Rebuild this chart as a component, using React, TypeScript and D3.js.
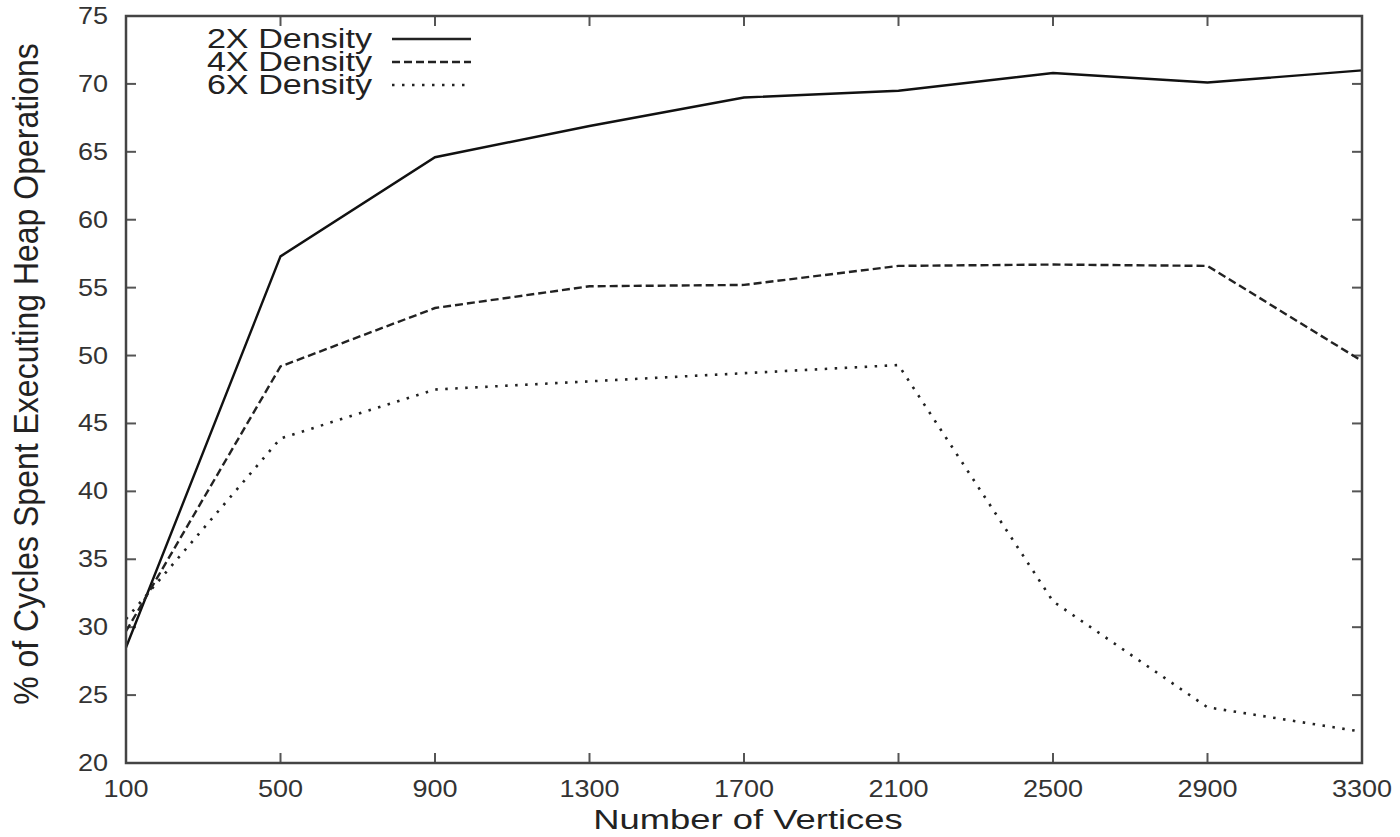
import React from 'react';
import * as d3 from 'd3';

// vertex counts on the x axis
const vertices = [100, 500, 900, 1300, 1700, 2100, 2500, 2900, 3300];

// % of cycles spent in heap operations
const density2x = [28.5, 57.3, 64.6, 66.9, 69.0, 69.5, 70.8, 70.1, 71.0];
const density4x = [29.7, 49.2, 53.5, 55.1, 55.2, 56.6, 56.7, 56.6, 49.6];
const density6x = [30.6, 43.9, 47.5, 48.1, 48.7, 49.3, 31.9, 24.1, 22.3];

const seriesNames = ['2X Density', '4X Density', '6X Density'];
const yTicks = [20, 25, 30, 35, 40, 45, 50, 55, 60, 65, 70, 75];

const W = 1400;
const H = 837;
const margin = { top: 16, right: 38, bottom: 74, left: 126 };
const font = '"Liberation Sans", Arial, Helvetica, sans-serif';
const dashes = [null, '8,4', '2.5,7.5'];

const App = () => {
  const x = d3
    .scaleLinear()
    .domain([100, 3300])
    .range([margin.left, W - margin.right]);

  const y = d3
    .scaleLinear()
    .domain([20, 75])
    .range([H - margin.bottom, margin.top]);

  const line = d3
    .line<number>()
    .x((d, i) => x(vertices[i]))
    .y((d) => y(d));

  const series = [density2x, density4x, density6x];
  const x0 = x.range()[0];
  const x1 = x.range()[1];
  const y0 = y.range()[0];
  const y1 = y.range()[1];
  const tick = 10;

  return (
    <svg
      width={W}
      height={H}
      style={{ position: 'absolute', left: 0, top: 0, background: '#fff' }}
      fontFamily={font}
    >
      {/* tick marks, mirrored on all four sides */}
      <g stroke="#555" strokeWidth={2}>
        {vertices.map((v) => (
          <g key={'xt' + v}>
            <line x1={x(v)} x2={x(v)} y1={y0} y2={y0 - tick} />
            <line x1={x(v)} x2={x(v)} y1={y1} y2={y1 + tick} />
          </g>
        ))}
        {yTicks.map((t) => (
          <g key={'yt' + t}>
            <line x1={x0} x2={x0 + tick} y1={y(t)} y2={y(t)} />
            <line x1={x1} x2={x1 - tick} y1={y(t)} y2={y(t)} />
          </g>
        ))}
      </g>

      {/* data lines */}
      <g fill="none">
        {series.map((s, i) => (
          <path
            key={i}
            d={line(s) || ''}
            stroke={i === 0 ? '#111' : '#222'}
            strokeWidth={i === 2 ? 2.6 : 2.4}
            strokeDasharray={dashes[i] || undefined}
          />
        ))}
      </g>

      {/* frame */}
      <rect
        x={x0}
        y={y1}
        width={x1 - x0}
        height={y0 - y1}
        fill="none"
        stroke="#444"
        strokeWidth={2.5}
      />

      {/* tick labels */}
      <g fill="#333" fontSize={23.5}>
        {vertices.map((v) => (
          <text
            key={'xl' + v}
            transform={`translate(${x(v)},${y0 + 34}) scale(1.15,1)`}
            textAnchor="middle"
          >
            {v}
          </text>
        ))}
        {yTicks.map((t) => (
          <text
            key={'yl' + t}
            transform={`translate(${x0 - 18},${y(t) + 8}) scale(1.15,1)`}
            textAnchor="end"
          >
            {t}
          </text>
        ))}
      </g>

      {/* axis titles */}
      <text
        transform={`translate(${(x0 + x1) / 2 + 4},${H - 8}) scale(1.3,1)`}
        textAnchor="middle"
        fontSize={28}
        fill="#222"
      >
        Number of Vertices
      </text>
      <text
        transform={`translate(38,374) rotate(-90) scale(1,1.12)`}
        textAnchor="middle"
        fontSize={32}
        fill="#222"
      >
        % of Cycles Spent Executing Heap Operations
      </text>

      {/* legend */}
      <g>
        {seriesNames.map((name, i) => {
          const ly = 39 + i * 23;
          return (
            <g key={name}>
              <text
                transform={`translate(372,${ly + 9}) scale(1.22,1)`}
                textAnchor="end"
                fontSize={28}
                fill="#222"
              >
                {name}
              </text>
              <line
                x1={392}
                x2={471}
                y1={ly}
                y2={ly}
                stroke="#222"
                strokeWidth={i === 2 ? 2.6 : 2.4}
                strokeDasharray={dashes[i] || undefined}
              />
            </g>
          );
        })}
      </g>
    </svg>
  );
};

export default App;
